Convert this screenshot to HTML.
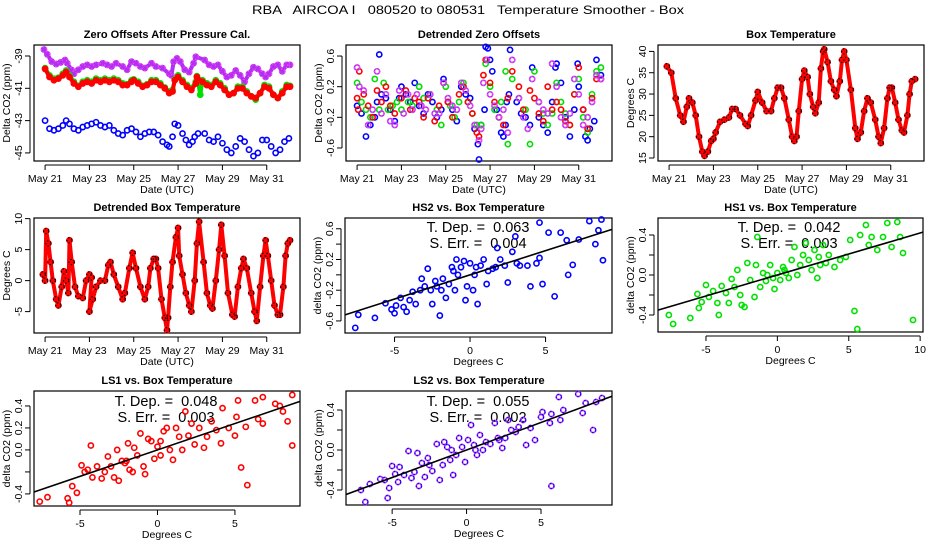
<!DOCTYPE html>
<html><head><meta charset="utf-8"><style>
html,body{margin:0;padding:0;background:#fff;}
svg{display:block;font-family:"Liberation Sans",sans-serif;}
</style></head><body>
<svg id="chart" width="936" height="540" viewBox="0 0 936 540" xmlns="http://www.w3.org/2000/svg">
<rect width="936" height="540" fill="#fff"/>
<text x="468" y="14" text-anchor="middle" font-size="12" style="white-space:pre" xml:space="preserve" textLength="432" lengthAdjust="spacingAndGlyphs">RBA   AIRCOA I   080520 to 080531   Temperature Smoother - Box</text>
</svg>
<script>
// ---- data ----
const dayTicks=[0,2,4,6,8,10];
const dayLabels=["May 21","May 23","May 25","May 27","May 29","May 31"];
// Panel 1 zero offsets [day, ppm]
const zoPurple=[[-0.05,-38.6],[0.1,-38.9],[0.3,-39.35],[0.5,-39.5],[0.7,-39.4],[0.9,-39.25],[1.0,-39.45],[1.2,-39.87],[1.3,-40.1],[1.5,-39.85],[1.7,-39.65],[1.9,-39.55],[2.1,-39.65],[2.3,-39.55],[2.6,-39.45],[2.8,-39.55],[3.0,-39.65],[3.2,-39.45],[3.5,-39.65],[3.7,-39.85],[3.9,-39.35],[4.1,-39.45],[4.3,-39.65],[4.5,-39.75],[4.8,-39.45],[5.0,-39.65],[5.3,-39.75],[5.6,-40.1],[5.7,-40.2],[5.8,-39.35],[5.95,-39.15],[6.1,-39.35],[6.3,-39.85],[6.5,-40.0],[6.7,-39.45],[6.8,-39.05],[7.2,-39.25],[7.4,-39.55],[7.6,-39.65],[7.8,-39.55],[8.0,-39.95],[8.2,-40.3],[8.4,-40.2],[8.6,-39.9],[8.8,-40.2],[9.0,-40.6],[9.2,-40.1],[9.4,-39.7],[9.6,-39.8],[9.8,-40.1],[9.95,-40.3],[10.1,-40.1],[10.3,-39.65],[10.5,-39.55],[10.7,-39.95],[10.9,-39.55],[11.05,-39.55]];
const zoGreen=[[0,-39.75],[0.2,-40.2],[0.4,-40.4],[0.6,-40.35],[0.8,-40.1],[0.95,-39.9],[1.1,-40.2],[1.3,-40.6],[1.5,-40.85],[1.7,-40.6],[1.9,-40.5],[2.1,-40.6],[2.3,-40.4],[2.5,-40.5],[2.7,-40.4],[2.9,-40.5],[3.1,-40.4],[3.3,-40.5],[3.5,-40.7],[3.7,-40.75],[3.9,-40.5],[4.0,-40.45],[4.2,-40.6],[4.4,-40.85],[4.6,-40.75],[4.8,-40.5],[5.0,-40.5],[5.2,-40.7],[5.4,-40.95],[5.6,-41.2],[5.75,-41.1],[5.85,-40.45],[6.0,-40.2],[6.2,-40.5],[6.4,-40.8],[6.6,-41.0],[6.8,-40.6],[6.85,-40.25],[7.0,-41.4],[7.1,-40.5],[7.3,-40.7],[7.5,-40.8],[7.7,-40.5],[7.9,-40.7],[8.1,-41.0],[8.3,-41.4],[8.5,-41.3],[8.7,-40.9],[8.9,-40.9],[9.1,-41.2],[9.3,-41.5],[9.5,-41.7],[9.7,-41.3],[9.9,-40.8],[10.1,-40.9],[10.3,-41.4],[10.5,-41.6],[10.7,-41.2],[10.9,-40.8],[11.05,-40.85]];
const zoRed=[[0,-39.8],[0.2,-40.3],[0.4,-40.5],[0.6,-40.4],[0.8,-40.2],[0.95,-40.0],[1.1,-40.3],[1.3,-40.7],[1.5,-40.9],[1.7,-40.7],[1.9,-40.6],[2.1,-40.7],[2.3,-40.5],[2.5,-40.6],[2.7,-40.5],[2.9,-40.6],[3.1,-40.5],[3.3,-40.6],[3.5,-40.8],[3.7,-40.8],[3.9,-40.6],[4.0,-40.5],[4.2,-40.7],[4.4,-40.9],[4.6,-40.8],[4.8,-40.6],[5.0,-40.6],[5.2,-40.8],[5.4,-41.0],[5.6,-41.3],[5.75,-41.2],[5.85,-40.5],[6.0,-40.3],[6.2,-40.6],[6.4,-40.9],[6.6,-41.1],[6.8,-40.7],[6.85,-40.3],[7.1,-40.6],[7.3,-40.8],[7.5,-40.9],[7.7,-40.6],[7.9,-40.8],[8.1,-41.1],[8.3,-41.4],[8.5,-41.3],[8.7,-41.0],[8.9,-41.0],[9.1,-41.3],[9.3,-41.5],[9.5,-41.6],[9.7,-41.3],[9.9,-40.9],[10.1,-41.0],[10.3,-41.4],[10.5,-41.6],[10.7,-41.3],[10.9,-40.9],[11.05,-40.9]];
const zoBlue=[[0,-43.0],[0.2,-43.5],[0.4,-43.6],[0.6,-43.5],[0.8,-43.3],[0.95,-43.0],[1.1,-43.2],[1.3,-43.5],[1.5,-43.6],[1.7,-43.4],[1.9,-43.3],[2.1,-43.2],[2.3,-43.1],[2.5,-43.3],[2.7,-43.4],[2.9,-43.3],[3.1,-43.6],[3.3,-43.8],[3.5,-43.9],[3.7,-43.6],[3.9,-43.5],[4.1,-43.7],[4.3,-44.0],[4.5,-43.8],[4.7,-43.7],[4.9,-43.7],[5.1,-43.9],[5.3,-44.3],[5.5,-44.5],[5.6,-44.6],[5.75,-44.0],[5.85,-43.2],[6.0,-43.3],[6.2,-43.8],[6.35,-44.2],[6.5,-44.5],[6.65,-44.3],[6.75,-44.0],[6.9,-43.8],[7.2,-43.8],[7.4,-44.2],[7.6,-44.3],[7.8,-44.0],[8.0,-44.4],[8.2,-44.8],[8.4,-45.0],[8.6,-44.6],[8.8,-44.1],[9.0,-44.3],[9.2,-44.8],[9.4,-45.2],[9.6,-45.0],[9.8,-44.2],[10.0,-44.2],[10.2,-44.6],[10.4,-45.0],[10.6,-44.8],[10.8,-44.3],[11.0,-44.1]];
// Panel 2 detrended offsets [day, ppm]
const dtBlue=[[0,-0.05],[0.2,-0.15],[0.4,-0.45],[0.6,-0.3],[0.8,-0.2],[0.9,0.0],[1.0,0.62],[1.1,0.1],[1.3,0.05],[1.5,-0.1],[1.7,-0.25],[1.9,0.05],[2.0,0.2],[2.2,0.1],[2.4,0.0],[2.6,0.25],[2.8,-0.05],[3.0,-0.15],[3.2,0.1],[3.4,0.0],[3.6,-0.2],[3.8,-0.1],[3.9,0.3],[4.1,0.0],[4.3,-0.1],[4.5,-0.25],[4.7,0.2],[4.9,0.1],[5.1,0.05],[5.3,-0.35],[5.45,-0.55],[5.5,-0.75],[5.6,-0.3],[5.75,-0.1],[5.8,0.72],[5.9,0.7],[6.0,0.55],[6.1,0.4],[6.3,-0.1],[6.5,-0.4],[6.6,-0.45],[6.7,-0.3],[6.75,0.0],[6.85,0.1],[6.9,0.68],[7.2,0.0],[7.4,-0.15],[7.6,-0.2],[7.8,-0.3],[7.9,0.45],[8.2,-0.2],[8.4,-0.3],[8.6,-0.4],[8.8,0.0],[8.95,0.45],[9.0,0.5],[9.2,0.25],[9.4,-0.2],[9.6,-0.45],[9.8,-0.1],[9.95,0.5],[10.0,0.2],[10.2,-0.1],[10.3,-0.45],[10.4,-0.5],[10.5,-0.35],[10.7,-0.25],[10.8,0.55],[11.0,0.35]];
const dtGreen=[[0,0.25],[0.2,0.0],[0.4,-0.1],[0.6,-0.2],[0.8,0.3],[1.0,-0.1],[1.2,0.25],[1.4,-0.1],[1.6,-0.05],[1.8,0.0],[2.0,-0.1],[2.3,0.0],[2.5,-0.05],[2.8,0.2],[3.0,0.05],[3.3,0.1],[3.6,-0.1],[3.8,-0.3],[4.0,0.2],[4.2,-0.05],[4.4,-0.2],[4.6,0.0],[4.8,0.25],[5.0,0.0],[5.2,-0.15],[5.4,-0.3],[5.6,-0.3],[5.8,0.5],[6.0,0.2],[6.2,-0.1],[6.4,-0.2],[6.5,0.0],[6.7,0.4],[6.8,-0.55],[7.0,0.3],[7.3,0.05],[7.6,-0.1],[7.8,-0.55],[8.0,0.4],[8.2,0.0],[8.4,-0.15],[8.6,-0.3],[8.8,-0.15],[9.0,0.25],[9.2,0.0],[9.4,-0.15],[9.6,-0.3],[9.8,0.1],[10.0,0.3],[10.2,-0.2],[10.4,-0.4],[10.6,0.1],[10.8,0.4],[11.0,0.45]];
const dtRed=[[0,0.05],[0.05,-0.1],[0.1,0.4],[0.3,0.1],[0.5,-0.05],[0.7,-0.2],[0.9,0.15],[1.1,0.0],[1.3,0.2],[1.5,-0.05],[1.7,-0.15],[2.0,0.05],[2.2,0.15],[2.4,-0.1],[2.6,0.05],[2.8,0.0],[3.0,-0.2],[3.2,0.05],[3.5,-0.25],[3.7,-0.05],[3.9,0.25],[4.1,0.0],[4.3,-0.2],[4.6,0.1],[4.8,0.2],[5.0,0.0],[5.2,-0.15],[5.4,-0.4],[5.5,-0.45],[5.7,0.35],[5.8,0.55],[6.0,0.25],[6.2,0.0],[6.4,-0.2],[6.6,-0.3],[6.8,0.05],[7.0,0.4],[7.3,0.2],[7.5,-0.1],[7.8,0.15],[8.0,0.05],[8.2,-0.15],[8.4,-0.25],[8.6,0.2],[8.8,-0.1],[9.0,0.0],[9.2,-0.1],[9.4,-0.25],[9.6,-0.3],[9.8,0.1],[10.0,0.45],[10.2,-0.1],[10.4,-0.35],[10.6,0.05],[10.8,0.3],[11.0,0.3]];
const dtPurple=[[0,0.45],[0.1,0.2],[0.3,0.15],[0.5,-0.3],[0.7,-0.1],[0.9,0.4],[1.1,-0.15],[1.3,0.1],[1.5,-0.25],[1.7,-0.3],[1.9,0.15],[2.1,-0.15],[2.3,0.1],[2.5,-0.1],[2.7,0.1],[2.9,-0.05],[3.1,-0.1],[3.3,0.1],[3.5,-0.15],[3.7,-0.15],[3.9,0.25],[4.1,0.05],[4.3,-0.05],[4.5,-0.1],[4.7,0.25],[4.9,0.15],[5.1,-0.05],[5.3,-0.3],[5.5,-0.5],[5.6,-0.35],[5.7,0.25],[5.85,0.55],[6.0,0.1],[6.2,-0.05],[6.4,-0.2],[6.6,-0.1],[6.8,-0.4],[7.0,0.55],[7.3,0.05],[7.5,-0.2],[7.7,-0.35],[7.9,0.3],[8.2,0.0],[8.4,-0.1],[8.6,-0.15],[8.8,0.5],[9.0,0.2],[9.2,-0.2],[9.4,-0.3],[9.6,-0.15],[9.8,0.3],[10.0,0.1],[10.2,-0.3],[10.4,-0.2],[10.6,0.0],[10.8,0.35],[11.0,0.3]];
// Panel 3 box temperature [day, degC]
const boxTemp=[[-0.1,36.5],[0.1,35],[0.3,29],[0.5,25],[0.65,23.5],[0.8,27],[0.9,29],[1.05,28],[1.2,25],[1.35,20],[1.5,16.5],[1.6,15.5],[1.75,16.5],[1.9,19],[2.0,19.5],[2.1,21],[2.3,23.5],[2.5,24],[2.7,24.5],[2.85,26.5],[3.0,26.5],[3.2,25],[3.45,23],[3.55,22.5],[3.7,25],[3.9,28.5],[4.0,30.5],[4.2,28],[4.4,26],[4.6,26],[4.75,29],[4.9,31.5],[5.05,31.5],[5.2,29],[5.4,24],[5.55,20],[5.65,19],[5.75,20],[5.85,26],[6.0,33.5],[6.1,35.5],[6.25,34],[6.35,30],[6.5,27],[6.6,25.5],[6.75,28],[6.85,36],[6.95,40],[7.0,40.5],[7.15,37.5],[7.3,33],[7.45,31],[7.55,29.5],[7.7,33],[7.8,38],[7.9,40],[8.0,38],[8.2,31],[8.4,22],[8.5,19.5],[8.65,21],[8.8,26],[8.95,29],[9.1,28],[9.3,24],[9.45,20],[9.55,18.5],[9.7,22],[9.85,29],[9.95,31.5],[10.05,31.5],[10.2,28],[10.35,24],[10.5,21.5],[10.6,21],[10.75,25],[10.85,30],[10.95,33],[11.1,33.5]];
// Panel 4 detrended box temperature [day, degC]
const dtBox=[[-0.1,1],[0.0,0],[0.05,8],[0.15,6],[0.25,3],[0.35,0],[0.5,-3],[0.6,-4],[0.75,-1],[0.85,1.5],[0.95,0],[1.05,-2],[1.1,6.5],[1.2,3],[1.35,-1],[1.5,-2.5],[1.7,-2.8],[1.85,0],[2.0,1],[2.1,0.5],[2.0,-5],[2.15,-3],[2.3,-1],[2.5,0],[2.7,0],[2.85,2.5],[2.95,3],[3.1,1],[3.3,-1],[3.5,-3],[3.6,-2],[3.8,2],[3.95,4.5],[4.1,2],[4.3,-1],[4.5,-3],[4.65,-1],[4.75,2],[4.9,3.5],[5.0,3.5],[5.1,2],[5.25,-3],[5.4,-6],[5.5,-8],[5.55,-6],[5.65,-1],[5.75,3],[5.9,7],[6.0,8.5],[6.05,4],[6.2,1],[6.35,-2],[6.5,-4],[6.6,-5],[6.75,0],[6.85,6],[6.95,9.5],[7.15,3],[7.3,-2],[7.45,-4],[7.55,-4.5],[7.7,0],[7.85,5],[7.95,9],[8.1,4],[8.25,-2],[8.45,-5.5],[8.55,-5.8],[8.7,-1],[8.85,2],[8.95,3.5],[9.1,2],[9.3,-2],[9.45,-5],[9.55,-6.5],[9.7,-1],[9.85,4],[9.95,6.5],[10.05,4],[10.2,0],[10.35,-4],[10.5,-5.5],[10.6,-5.5],[10.75,-1],[10.85,4],[10.95,6],[11.05,6.5]];
// Scatter panels [degC, ppm]
const hs2Pts=[[-7.6,-0.69],[-7.4,-0.52],[-6.3,-0.56],[-5.6,-0.37],[-5.2,-0.45],[-5.0,-0.50],[-4.9,-0.40],[-4.6,-0.3],[-4.4,-0.42],[-4.2,-0.48],[-4.0,-0.33],[-3.8,-0.22],[-3.6,-0.38],[-3.3,-0.2],[-3.0,-0.15],[-2.8,0.08],[-2.5,-0.38],[-2.3,-0.08],[-2.2,-0.15],[-2.0,-0.53],[-1.9,-0.2],[-1.8,-0.05],[-1.6,-0.3],[-1.4,-0.12],[-1.2,0.1],[-1.0,-0.2],[-0.9,0.2],[-0.8,0.0],[-0.6,0.1],[-0.4,0.18],[-0.3,-0.33],[-0.2,-0.15],[0.0,0.15],[0.2,-0.2],[0.4,0.1],[0.5,-0.38],[0.7,0.12],[0.9,0.2],[1.1,-0.12],[1.2,0.05],[1.5,0.08],[1.8,0.35],[2.0,0.2],[2.3,0.12],[2.5,-0.1],[2.8,0.3],[3.0,0.5],[3.1,0.15],[3.3,0.12],[3.8,0.12],[4.0,-0.15],[4.4,0.15],[4.6,0.22],[4.8,-0.12],[4.6,0.68],[5.2,0.55],[5.6,-0.28],[6.0,0.55],[6.4,0.45],[6.5,0.0],[6.8,0.13],[7.2,0.46],[7.9,0.7],[8.3,0.4],[8.5,0.58],[8.7,0.72],[8.8,0.19],[-3.2,-0.05],[-2.6,-0.2],[-1.1,0.05],[0.3,0.0],[1.7,0.1]];
const hs1Pts=[[-7.6,-0.40],[-7.3,-0.49],[-6.1,-0.43],[-5.6,-0.19],[-5.5,-0.33],[-5.3,-0.27],[-5.0,-0.10],[-4.8,-0.22],[-4.5,-0.16],[-4.2,-0.28],[-4.1,-0.40],[-3.9,-0.11],[-3.6,-0.18],[-3.4,-0.28],[-3.2,-0.04],[-3.0,-0.12],[-2.8,0.05],[-2.6,-0.2],[-2.5,-0.3],[-2.3,-0.32],[-2.1,0.12],[-1.9,-0.05],[-1.6,-0.22],[-1.5,0.1],[-1.4,0.38],[-1.2,-0.12],[-1.0,0.02],[-0.8,-0.06],[-0.5,0.1],[-0.3,-0.03],[-0.2,-0.14],[0.0,0.02],[0.2,-0.05],[0.4,0.08],[0.6,0.02],[0.8,-0.03],[1.0,0.15],[1.2,0.28],[1.4,0.0],[1.6,0.1],[1.8,0.2],[2.0,0.32],[2.2,0.15],[2.4,0.05],[2.6,0.25],[2.8,-0.03],[3.0,0.1],[3.2,0.3],[3.4,0.12],[3.6,0.2],[4.0,0.08],[4.4,0.15],[4.8,0.18],[5.1,0.35],[5.4,-0.36],[5.6,-0.54],[5.8,0.40],[6.2,0.50],[6.4,0.3],[6.6,0.38],[7.0,0.25],[7.4,0.38],[7.7,0.52],[8.0,0.28],[8.4,0.53],[8.6,0.38],[8.8,0.22],[9.5,-0.45],[-0.7,0.0],[0.5,0.05],[2.9,0.18]];
const ls1Pts=[[-7.6,-0.47],[-7.1,-0.43],[-5.8,-0.44],[-5.7,-0.48],[-5.5,-0.33],[-5.2,-0.39],[-4.9,-0.14],[-4.7,-0.2],[-4.5,-0.18],[-4.3,0.04],[-4.2,-0.25],[-3.9,-0.15],[-3.6,-0.26],[-3.4,-0.2],[-3.2,-0.06],[-3.0,-0.15],[-2.8,-0.25],[-2.6,0.0],[-2.5,-0.28],[-2.3,-0.1],[-2.1,-0.12],[-1.9,0.06],[-1.8,-0.18],[-1.6,-0.2],[-1.5,0.02],[-1.3,-0.05],[-1.1,0.15],[-0.9,-0.15],[-0.8,-0.22],[-0.6,0.1],[-0.4,0.08],[-0.2,-0.08],[0.0,0.03],[0.2,-0.05],[0.4,0.17],[0.6,0.2],[0.8,0.0],[1.0,-0.09],[1.2,0.2],[1.4,0.12],[1.6,0.0],[1.8,0.35],[2.0,0.13],[2.2,0.24],[2.4,0.05],[2.7,0.2],[3.0,0.02],[3.2,0.12],[3.5,0.26],[3.8,0.18],[4.1,0.06],[4.2,0.38],[4.6,0.2],[5.0,0.13],[5.1,0.3],[5.2,0.45],[5.4,-0.16],[5.8,-0.32],[5.7,0.21],[6.3,0.45],[6.5,0.28],[6.8,0.48],[6.8,0.24],[7.6,0.42],[7.9,0.4],[8.1,0.35],[8.4,0.26],[8.7,0.5],[8.7,0.04],[-2.0,-0.1],[0.2,0.08]];
const ls2Pts=[[-7.1,-0.40],[-6.8,-0.52],[-6.5,-0.34],[-5.8,-0.29],[-5.5,-0.3],[-5.3,-0.48],[-5.2,-0.38],[-5.0,-0.16],[-4.8,-0.24],[-4.6,-0.32],[-4.5,-0.17],[-4.2,-0.25],[-3.9,-0.01],[-3.7,-0.28],[-3.5,-0.22],[-3.3,-0.03],[-3.2,-0.36],[-3.0,-0.13],[-2.8,-0.27],[-2.6,-0.08],[-2.5,-0.15],[-2.3,-0.21],[-2.0,0.06],[-1.8,-0.3],[-1.6,-0.15],[-1.5,0.08],[-1.3,0.03],[-1.1,-0.1],[-0.9,-0.25],[-0.7,-0.05],[-0.5,0.12],[-0.3,0.03],[-0.1,-0.12],[0.1,0.1],[0.3,0.25],[0.5,0.05],[0.7,-0.05],[0.9,0.15],[1.1,0.0],[1.3,0.08],[1.6,0.06],[1.9,0.27],[2.1,0.12],[2.4,0.02],[2.6,0.12],[2.8,0.3],[3.0,0.2],[3.3,0.18],[3.5,0.23],[3.8,0.3],[4.0,0.05],[4.3,0.22],[4.6,0.1],[5.0,0.33],[5.1,0.38],[5.6,0.27],[5.7,-0.36],[5.7,0.36],[6.2,0.53],[6.3,0.3],[6.5,0.4],[7.5,0.56],[7.8,0.37],[8.0,0.47],[8.5,0.2],[8.7,0.48],[9.1,0.52],[-1.0,0.0],[0.6,0.0],[2.2,0.1]];
const fitSlopes=[0.063,0.042,0.048,0.055];
const fitSE=["0.004","0.003","0.003","0.002"];

const NS="http://www.w3.org/2000/svg";
const svg=document.getElementById('chart');
function mk(tag,attrs,parent){const e=document.createElementNS(NS,tag);for(const k in attrs)e.setAttribute(k,attrs[k]);(parent||svg).appendChild(e);return e;}

function panel(o){
  const g=mk('g',{});
  
  
  const sx=v=>o.l+(v-o.xd[0])/(o.xd[1]-o.xd[0])*(o.r-o.l);
  const sy=v=>o.b-(v-o.yd[0])/(o.yd[1]-o.yd[0])*(o.b-o.t);
  const box=mk('rect',{x:o.l,y:o.t,width:o.r-o.l,height:o.b-o.t,fill:'none',stroke:'#000','stroke-width':1.2},g);
  
  
  const tt=mk('text',{x:(o.l+o.r)/2,y:o.t-7,'text-anchor':'middle','font-size':11,'font-weight':'bold'},g);
  tt.textContent=o.title;
  
  
  const xa=mk('g',{},g);
  
  
  mk('line',{x1:sx(o.xt[0]),x2:sx(o.xt[o.xt.length-1]),y1:o.b+4,y2:o.b+4,stroke:'#000'},xa);
  o.xt.forEach((v,i)=>{
    mk('line',{x1:sx(v),x2:sx(v),y1:o.b+4,y2:o.b+9,stroke:'#000'},xa);
    const t=mk('text',{x:sx(v),y:o.b+21,'text-anchor':'middle','font-size':10.5},xa);
    t.textContent=o.xl[i];
    
    
  });
  const xt=mk('text',{x:(o.l+o.r)/2,y:o.b+32,'text-anchor':'middle','font-size':10.5},g);
  xt.textContent=o.xtitle;
  
  
  const ya=mk('g',{},g);
  
  
  mk('line',{x1:o.l-4,x2:o.l-4,y1:sy(o.yt[0]),y2:sy(o.yt[o.yt.length-1]),stroke:'#000'},ya);
  o.yt.forEach((v,i)=>{
    mk('line',{x1:o.l-4,x2:o.l-9,y1:sy(v),y2:sy(v),stroke:'#000'},ya);
    if(o.yl[i]!==''){
      const t=mk('text',{x:o.l-12,y:sy(v),'text-anchor':'middle','font-size':10.5,transform:`rotate(-90 ${o.l-12} ${sy(v)})`},ya);
      t.textContent=o.yl[i];
      
      
    }
  });
  const yc=(o.t+o.b)/2, yx=o.l-24;
  const yt=mk('text',{x:yx,y:yc,'text-anchor':'middle','font-size':10.5,transform:`rotate(-90 ${yx} ${yc})`},g);
  yt.textContent=o.ytitle;
  
  
  return {g,sx,sy};
}

function series(P,data,color,name,band,dashColor){
  const sg=mk('g',{},P.g);
  
  
  if(band){
    const d=data.map((p,i)=>(i?'L':'M')+P.sx(p[0]).toFixed(1)+' '+P.sy(p[1]).toFixed(1)).join(' ');
    const pl=mk('path',{d:d,fill:'none',stroke:color,'stroke-width':band,'stroke-linejoin':'round','stroke-linecap':'round'},sg);
    
    
  }
  data.forEach(p=>{
    const c=mk('circle',{cx:P.sx(p[0]),cy:P.sy(p[1]),r:2.6,fill:'none',stroke:color,'stroke-width':1.6},sg);
    
    
    if(dashColor){mk('circle',{cx:P.sx(p[0]),cy:P.sy(p[1]),r:2.6,fill:'none',stroke:dashColor,'stroke-width':1.2,'stroke-dasharray':'1.5 2'},sg);}
  });
}

function stats(P,cx,y1,slope,se){
  const a=mk('text',{x:cx,y:y1,'text-anchor':'middle','font-size':14.5,style:'white-space:pre'},P.g);
  a.textContent='T. Dep. =  '+slope.toFixed(3);
  
  
  const b=mk('text',{x:cx,y:y1+16,'text-anchor':'middle','font-size':14.5,style:'white-space:pre'},P.g);
  b.textContent='S. Err. =  '+se;
  
  
}
function fit(P,slope,xd){
  const l=mk('line',{x1:P.sx(xd[0]),y1:P.sy(slope*xd[0]),x2:P.sx(xd[1]),y2:P.sy(slope*xd[1]),stroke:'#000','stroke-width':1.6},P.g);
  
  
}

const PURPLE='#b030f0';
let P=panel({name:'zero-offsets-panel',l:34,t:45,r:300,b:161,xd:[-0.5,11.5],yd:[-45.5,-38.32],xt:dayTicks,xl:dayLabels,yt:[-45,-43,-41,-39],yl:['-45','-43','-41','-39'],title:'Zero Offsets After Pressure Cal.',xtitle:'Date (UTC)',ytitle:'Delta CO2 (ppm)'});
series(P,zoPurple,PURPLE,'series-ls2',4,'#ff40ff');
series(P,zoGreen,'#00e000','series-hs1',4);
series(P,zoRed,'#ff0000','series-ls1',4);
series(P,zoBlue,'#0000ff','series-hs2',0);
P=panel({name:'detrended-offsets-panel',l:346,t:45,r:612,b:161,xd:[-0.5,11.5],yd:[-0.77,0.744],xt:dayTicks,xl:dayLabels,yt:[-0.6,-0.2,0.2,0.6],yl:['-0.6','-0.2','0.2','0.6'],title:'Detrended Zero Offsets',xtitle:'Date (UTC)',ytitle:'Delta CO2 (ppm)'});
series(P,dtBlue,'#0000ff','series-hs2',0);
series(P,dtGreen,'#00e000','series-hs1',0);
series(P,dtRed,'#ff0000','series-ls1',0);
series(P,dtPurple,PURPLE,'series-ls2',0,'#ff40ff');
P=panel({name:'box-temperature-panel',l:658,t:45,r:924,b:161,xd:[-0.5,11.5],yd:[14.3,41.5],xt:dayTicks,xl:dayLabels,yt:[15,20,25,30,35,40],yl:['15','20','25','30','35','40'],title:'Box Temperature',xtitle:'Date (UTC)',ytitle:'Degrees C'});
series(P,boxTemp,'#ff0000','series-box-temp',4,'#000');
P=panel({name:'detrended-box-temp-panel',l:34,t:218,r:300,b:333,xd:[-0.5,11.5],yd:[-8.45,10.1],xt:dayTicks,xl:dayLabels,yt:[-5,0,5,10],yl:['-5','0','5','10'],title:'Detrended Box Temperature',xtitle:'Date (UTC)',ytitle:'Degrees C'});
series(P,dtBox,'#ff0000','series-detrended-temp',4,'#000');
P=panel({name:'hs2-scatter-panel',l:345,t:218,r:612,b:333,xd:[-8.28,9.4],yd:[-0.757,0.74],xt:[-5,0,5],xl:['-5','0','5'],yt:[-0.6,-0.4,-0.2,0,0.2,0.4,0.6],yl:['-0.6','','-0.2','','0.2','','0.6'],title:'HS2 vs. Box Temperature',xtitle:'Degrees C',ytitle:'delta CO2 (ppm)'});
stats(P,478,232,fitSlopes[0],fitSE[0]);
series(P,hs2Pts,'#0000ff','hs2-points',0);
fit(P,fitSlopes[0],[-8.28,9.4]);
P=panel({name:'hs1-scatter-panel',l:658,t:218,r:923,b:332,xd:[-8.36,10.2],yd:[-0.57,0.57],xt:[-5,0,5,10],xl:['-5','0','5','10'],yt:[-0.4,-0.2,0,0.2,0.4],yl:['-0.4','','0.0','','0.4'],title:'HS1 vs. Box Temperature',xtitle:'Degrees C',ytitle:'delta CO2 (ppm)'});
stats(P,789,232,fitSlopes[1],fitSE[1]);
series(P,hs1Pts,'#00e000','hs1-points',0);
fit(P,fitSlopes[1],[-8.36,10.2]);
P=panel({name:'ls1-scatter-panel',l:34,t:391,r:300,b:506,xd:[-7.97,9.2],yd:[-0.51,0.536],xt:[-5,0,5],xl:['-5','0','5'],yt:[-0.4,-0.2,0,0.2,0.4],yl:['-0.4','','0.0','0.2','0.4'],title:'LS1 vs. Box Temperature',xtitle:'Degrees C',ytitle:'delta CO2 (ppm)'});
stats(P,166,406,fitSlopes[2],fitSE[2]);
series(P,ls1Pts,'#ff0000','ls1-points',0);
fit(P,fitSlopes[2],[-7.97,9.2]);
P=panel({name:'ls2-scatter-panel',l:346,t:391,r:612,b:505,xd:[-8.1,9.77],yd:[-0.55,0.59],xt:[-5,0,5],xl:['-5','0','5'],yt:[-0.4,-0.2,0,0.2,0.4],yl:['-0.4','','0.0','','0.4'],title:'LS2 vs. Box Temperature',xtitle:'Degrees C',ytitle:'delta CO2 (ppm)'});
stats(P,478,406,fitSlopes[3],fitSE[3]);
series(P,ls2Pts,PURPLE,'ls2-points',0,'#0000ff');
fit(P,fitSlopes[3],[-8.1,9.77]);
</script>
</body></html>
